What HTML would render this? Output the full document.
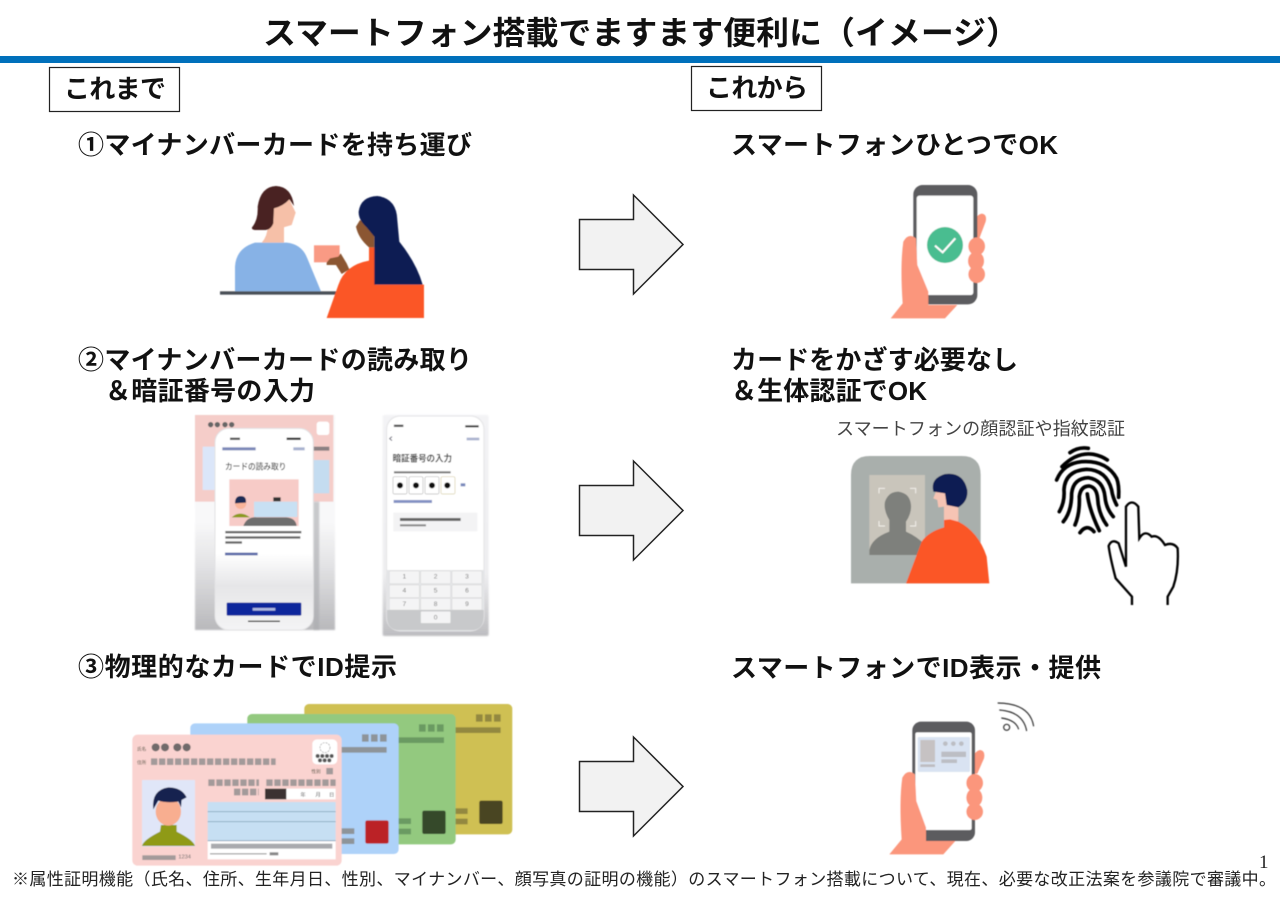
<!DOCTYPE html>
<html lang="ja"><head><meta charset="utf-8"><title>スマートフォン搭載でますます便利に</title>
<style>html,body{margin:0;padding:0;background:#fff;width:1280px;height:902px;overflow:hidden}svg{display:block}
text{font-family:"Liberation Sans","Noto Sans CJK JP",sans-serif}
.h{font-size:26px;font-weight:700;fill:#111}</style></head><body>
<svg width="1280" height="902" viewBox="0 0 1280 902" xmlns="http://www.w3.org/2000/svg">
<defs>
<filter id="soft" x="-5%" y="-5%" width="110%" height="110%"><feGaussianBlur stdDeviation="1.2"/></filter>
<filter id="b" x="-5%" y="-5%" width="110%" height="110%"><feGaussianBlur stdDeviation="2"/></filter>
<filter id="b2" x="-5%" y="-5%" width="110%" height="110%"><feGaussianBlur stdDeviation="0.9"/></filter>
<linearGradient id="g1" x1="0" y1="0" x2="0" y2="1"><stop offset="0" stop-color="#f6f6f7"/><stop offset=".5" stop-color="#f8f8f9"/><stop offset=".72" stop-color="#e0e0e2"/><stop offset="1" stop-color="#b8b8bb"/></linearGradient>
<linearGradient id="g2" x1="0" y1="0" x2="0" y2="1"><stop offset="0" stop-color="#fff"/><stop offset=".62" stop-color="#fff"/><stop offset=".78" stop-color="#e6e6e8"/><stop offset="1" stop-color="#f4f4f5"/></linearGradient>
<linearGradient id="g3" x1="0" y1="0" x2="0" y2="1"><stop offset="0" stop-color="#f3f3f5"/><stop offset=".72" stop-color="#eeeef0"/><stop offset="1" stop-color="#bdbdc0"/></linearGradient>
</defs>
<rect width="1280" height="902" fill="#fff"/>
<text x="263" y="44" font-size="32" font-weight="700" fill="#111" textLength="756" lengthAdjust="spacingAndGlyphs">スマートフォン搭載でますます便利に（イメージ）</text>
<rect x="0" y="56" width="1280" height="7" fill="#0070bb"/>
<rect x="49.500" y="67.500" width="130" height="44" fill="#fff" stroke="#222" stroke-width="1.2"/>
<text x="64" y="98" class="h" textLength="102">これまで</text>
<rect x="691.500" y="66.500" width="130" height="44" fill="#fff" stroke="#222" stroke-width="1.2"/>
<text x="706" y="97" class="h" textLength="102">これから</text>

<text x="78" y="154" class="h" textLength="394">①マイナンバーカードを持ち運び</text>
<text x="78" y="369" class="h" textLength="394">②マイナンバーカードの読み取り</text>
<text x="105" y="400" class="h" textLength="210">＆暗証番号の入力</text>
<text x="78" y="676" class="h" textLength="319">③物理的なカードでID提示</text>
<text x="731" y="154" class="h" textLength="327">スマートフォンひとつでOK</text>
<text x="731" y="369" class="h" textLength="287">カードをかざす必要なし</text>
<text x="731" y="400" class="h" textLength="196">＆生体認証でOK</text>
<text x="731" y="677" class="h" textLength="370">スマートフォンでID表示・提供</text>

<g fill="#f2f2f2" stroke="#222" stroke-width="1.5" stroke-linejoin="miter">
<path d="M579.500 219.500H633.500V195L683 244.500L633.500 294V269.500H579.500Z"/>
<path d="M579.500 485.500H633.500V461L683 510.500L633.500 560V535.500H579.500Z"/>
<path d="M579.500 761.500H633.500V737L683 786.500L633.500 836V811.500H579.500Z"/>
</g>

<!-- counter illustration -->
<g transform="translate(190 170) scale(.3333)" filter="url(#soft)">
<path d="M135 364V290Q138 235 195 218H290Q335 222 352 265L393 364Z" fill="#87b2e6"/>
<path d="M215 218Q232 200 233 170H282V218Z" fill="#f6c0a8"/>
<path d="M250 115L298 88L317 128L305 165L270 175H235V125Z" fill="#f6c0a8"/>
<path d="M186 172Q205 150 203 110Q212 50 258 48Q305 50 312 108L298 88Q280 108 252 115L250 160Q242 180 225 180H198Q184 180 186 172Z" fill="#4a2320"/>
<rect x="90" y="364" width="350" height="10" fill="#484f57"/>
<path d="M410 444L445 345Q465 285 537 272V232H556V344H702V444Z" fill="#fb5726"/>
<path d="M498 170L510 150L553 175V232H537Q505 205 498 170Z" fill="#8b5732"/>
<path d="M553 344V200L530 172Q505 150 506 125Q512 80 562 78Q620 85 622 150L628 215Q680 280 698 344Z" fill="#0e1f52"/>
<rect x="372" y="226" width="77" height="51" fill="#f99a84"/>
<path d="M420 265L445 260L452 250L470 280L478 298L455 312L438 285H410V278Z" fill="#8b5732"/>
</g>

<!-- phone 1 -->
<g transform="translate(880 175) scale(.3333)" filter="url(#soft)">
<path d="M280 140Q292 118 305 116Q322 118 317 140L298 190H280Z" fill="#fb967c"/>
<rect x="100" y="30" width="192" height="358" rx="28" fill="#5c5c5e"/>
<rect x="110" y="62" width="170" height="298" rx="8" fill="#fff"/>
<circle cx="195" cy="210" r="54" fill="#49bd90"/>
<path d="M165 212L188 232L226 190" fill="none" stroke="#fff" stroke-width="6"/>
<path d="M32 430L68 385Q60 270 70 200Q85 172 108 190L112 270L145 350V390H232L195 430Z" fill="#fb967c"/>
<g fill="#fb967c"><ellipse cx="290" cy="214" rx="25" ry="27"/><ellipse cx="288" cy="258" rx="24" ry="28"/><ellipse cx="290" cy="298" rx="25" ry="26"/></g>
</g>

<!-- phone reading screens -->
<g transform="translate(190 410) scale(.3333)" filter="url(#soft)">
<rect x="15" y="15" width="420" height="645" fill="url(#g1)" filter="url(#b)"/>
<rect x="15" y="15" width="415" height="260" fill="#f5cdc9"/>
<g fill="#666" filter="url(#b2)"><circle cx="62" cy="44" r="8"/><circle cx="82" cy="44" r="8"/><circle cx="105" cy="44" r="8"/><circle cx="125" cy="44" r="8"/></g>
<rect x="38" y="110" width="40" height="130" fill="#dbe6f9"/>
<rect x="370" y="150" width="48" height="100" fill="#c4dcf0"/>
<rect x="380" y="35" width="38" height="40" rx="8" fill="#fff"/>
<rect x="370" y="110" width="48" height="12" fill="#8a8082"/>
<rect x="370" y="275" width="18" height="385" fill="#a9aaae" opacity=".6" filter="url(#b)"/>
<rect x="75" y="55" width="295" height="605" rx="42" fill="url(#g2)" stroke="#e2e2e4" stroke-width="3"/>
<text x="105" y="179" font-size="26" font-weight="500" fill="#444" textLength="184" lengthAdjust="spacingAndGlyphs">カードの読み取り</text>
<rect x="118" y="208" width="208" height="140" fill="#f7cbc7"/>
<rect x="192" y="275" width="130" height="46" fill="#c8e0f3"/>
<rect x="250" y="262" width="22" height="12" fill="#333"/>
<circle cx="152" cy="280" r="17" fill="#f8b49a"/><path d="M135 280Q135 258 152 258Q170 258 168 278Z" fill="#1b2a55"/>
<path d="M125 322Q150 300 180 322Z" fill="#8b9a1c"/>
<path d="M160 348Q170 320 200 322H290Q318 325 320 348Z" fill="#6e6e6e"/>
<g fill="#666" filter="url(#b2)"><rect x="106" y="363" width="228" height="7"/><rect x="106" y="379" width="225" height="7"/><rect x="106" y="394" width="50" height="7"/></g>
<rect x="105" y="428" width="98" height="8" fill="#5c6aa8" filter="url(#b2)"/>
<rect x="97" y="112" width="100" height="9" fill="#7b88b8" filter="url(#b2)"/>
<rect x="310" y="112" width="34" height="9" fill="#a8b2cf" filter="url(#b2)"/>
<rect x="120" y="83" width="30" height="7" fill="#555" filter="url(#b2)"/>
<rect x="290" y="83" width="42" height="7" fill="#333" filter="url(#b2)"/>
<rect x="110" y="578" width="224" height="39" rx="3" fill="#0a269c"/>
<rect x="188" y="594" width="68" height="8" fill="#aeb8e0" filter="url(#b2)"/>
<rect x="174" y="632" width="96" height="4" fill="#333"/>
<!-- second -->
<rect x="578" y="15" width="318" height="663" rx="6" fill="url(#g3)" filter="url(#b)"/>
<rect x="590" y="18" width="292" height="645" rx="40" fill="#fff" stroke="#e4e4e6" stroke-width="3"/>
<path d="M591 480H881V620Q881 661 842 661H630Q591 661 591 620Z" fill="#e4e5e7"/>
<path d="M591 600H881V620Q881 661 842 661H630Q591 661 591 620Z" fill="#c8c9cb"/>
<rect x="612" y="44" width="28" height="7" fill="#555" filter="url(#b2)"/>
<rect x="826" y="46" width="40" height="6" fill="#333" filter="url(#b2)"/>
<rect x="830" y="83" width="38" height="8" fill="#aab3cf" filter="url(#b2)"/>
<path d="M606 80L599 86L606 92" fill="none" stroke="#667" stroke-width="3"/>
<text x="608" y="155" font-size="28" font-weight="700" fill="#444" textLength="178" lengthAdjust="spacingAndGlyphs">暗証番号の入力</text>
<rect x="612" y="184" width="170" height="6" fill="#777" filter="url(#b2)"/>
<g fill="#fff" stroke="#bbb" stroke-width="2"><rect x="609" y="200" width="42" height="52" rx="5"/><rect x="657" y="200" width="42" height="52" rx="5"/><rect x="705" y="200" width="42" height="52" rx="5"/><rect x="753" y="200" width="42" height="52" rx="5" stroke="#d8cfa8"/></g>
<g fill="#111"><circle cx="630" cy="226" r="9"/><circle cx="678" cy="226" r="9"/><circle cx="726" cy="226" r="9"/><circle cx="772" cy="226" r="9"/></g>
<rect x="812" y="220" width="14" height="9" fill="#7888bb" filter="url(#b2)"/>
<rect x="611" y="270" width="115" height="9" fill="#8492c4" filter="url(#b2)"/>
<rect x="610" y="308" width="252" height="56" fill="#f3f3f4"/>
<rect x="630" y="324" width="182" height="9" fill="#666" filter="url(#b2)"/>
<rect x="630" y="343" width="78" height="6" fill="#888" filter="url(#b2)"/>
<g fill="#f4f4f5" stroke="#ccc"><rect x="598" y="483" width="90" height="38" rx="3"/><rect x="692" y="483" width="90" height="38" rx="3"/><rect x="786" y="483" width="90" height="38" rx="3"/><rect x="598" y="525" width="90" height="38" rx="3"/><rect x="692" y="525" width="90" height="38" rx="3"/><rect x="786" y="525" width="90" height="38" rx="3"/><rect x="598" y="565" width="90" height="35" rx="3"/><rect x="692" y="565" width="90" height="35" rx="3"/><rect x="786" y="565" width="90" height="35" rx="3"/><rect x="692" y="604" width="90" height="36" rx="3"/></g>
<g font-size="20" fill="#777" text-anchor="middle"><text x="643" y="506">1</text><text x="737" y="506">2</text><text x="831" y="506">3</text><text x="643" y="548">4</text><text x="737" y="548">5</text><text x="831" y="548">6</text><text x="643" y="588">7</text><text x="737" y="588">8</text><text x="831" y="588">9</text><text x="737" y="628">0</text></g>
</g>

<!-- face auth caption -->
<text x="836" y="435" font-size="18" fill="#444" textLength="289">スマートフォンの顔認証や指紋認証</text>

<!-- face + fingerprint -->
<g transform="translate(830 410) scale(.3333)" filter="url(#soft)">
<path d="M63 520V195Q63 138 120 138H395Q452 138 452 195V520Z" fill="#a9afac"/>
<rect x="118" y="195" width="167" height="240" fill="#c9c5bb"/>
<path d="M118 435V420Q125 385 178 365L178 330Q160 300 165 275Q175 245 205 245Q240 250 243 285Q245 310 228 335V365Q262 380 285 405V435Z" fill="#7e807b"/>
<g fill="none" stroke="#f2f0ea" stroke-width="3"><path d="M147 250V235H165M240 235H257V250M147 333V348H165M240 348H257V333"/></g>
<path d="M228 520L275 395Q295 365 342 352V320H385V335Q445 365 470 440L478 520Z" fill="#fb5726"/>
<path d="M342 330V290L325 292L322 270L310 265L318 245H345L385 290V335L360 328Z" fill="#f6c4b4"/>
<path d="M385 292L350 285L345 250L310 245Q300 205 345 192Q400 185 412 240Q415 275 385 292Z" fill="#0e1f52"/>
<g fill="none" stroke="#000" stroke-width="11" stroke-linecap="round">
<path d="M720 128Q745 110 775 115"/>
<path d="M696 170Q740 125 790 133Q815 138 832 150"/>
<path d="M680 210Q700 160 755 155Q830 150 860 205Q868 225 866 262"/>
<path d="M688 305Q705 275 702 240Q705 182 770 178Q830 180 845 240Q848 262 860 285"/>
<path d="M700 335Q725 305 725 250Q730 205 775 203Q820 210 825 260Q828 295 850 320"/>
<path d="M735 345Q750 310 748 260Q752 228 778 228Q800 232 803 265Q805 310 830 345"/>
<path d="M772 252Q778 300 808 362"/>
<path d="M750 368Q770 340 792 365"/>
</g>
<path d="M906 585V560L857 505Q840 440 836 408Q845 385 866 400L888 470V290Q905 265 925 290L928 385Q945 358 965 380Q985 372 1005 405Q1030 395 1043 415Q1047 480 1030 530L1013 560V585" fill="none" stroke="#000" stroke-width="7"/>
</g>

<!-- cards -->
<g transform="translate(125 700) scale(.3333)" filter="url(#soft)">
<rect x="538" y="12" width="624" height="391" rx="14" fill="#cfc052"/>
<g fill="#93883f"><rect x="1053" y="43" width="20" height="22"/><rect x="1080" y="43" width="20" height="22"/><rect x="1107" y="43" width="20" height="22"/><rect x="960" y="82" width="167" height="17"/><rect x="960" y="325" width="68" height="17"/><rect x="960" y="356" width="68" height="17"/></g>
<rect x="1063" y="302" width="70" height="70" rx="6" fill="#4a4420"/>
<rect x="367" y="42" width="625" height="391" rx="14" fill="#93c97f"/>
<g fill="#6a9a62"><rect x="882" y="73" width="20" height="22"/><rect x="909" y="73" width="20" height="22"/><rect x="936" y="73" width="20" height="22"/><rect x="790" y="112" width="167" height="17"/><rect x="790" y="355" width="68" height="17"/><rect x="790" y="386" width="68" height="17"/></g>
<rect x="892" y="332" width="70" height="70" rx="6" fill="#35492c"/>
<rect x="196" y="70" width="625" height="392" rx="14" fill="#aed2f9"/>
<g fill="#8e9499"><rect x="711" y="103" width="20" height="22"/><rect x="738" y="103" width="20" height="22"/><rect x="765" y="103" width="20" height="22"/><rect x="620" y="141" width="165" height="17"/><rect x="620" y="385" width="68" height="17"/><rect x="620" y="415" width="68" height="17"/></g>
<rect x="721" y="361" width="70" height="70" rx="6" fill="#bb2028"/>
<rect x="22" y="104" width="628" height="393" rx="16" fill="#fad3d0"/>
<g fill="#6f6a6a"><circle cx="92" cy="142" r="12"/><circle cx="120" cy="142" r="12"/><circle cx="157" cy="142" r="12"/><circle cx="185" cy="142" r="12"/></g>
<g font-size="14" fill="#554"><text x="36" y="152">氏名</text><text x="36" y="192">住所</text><text x="559" y="219">性別</text></g>
<g fill="none" stroke="#a39a9a" stroke-width="20" stroke-dasharray="19 5">
<path d="M78 185H452"/>
<path d="M250 248H402"/>
<path d="M424 248H632"/>
<path d="M327 276H401"/>
</g>
<rect x="604" y="204" width="20" height="19" fill="#a39a9a"/>
<rect x="52" y="466" width="100" height="14" fill="#a39a9a"/>
<rect x="562" y="118" width="75" height="75" rx="14" fill="#fff"/>
<g fill="#555"><circle cx="578" cy="168" r="6"/><circle cx="592" cy="168" r="6"/><circle cx="606" cy="168" r="6"/><circle cx="620" cy="168" r="6"/><circle cx="585" cy="181" r="6"/><circle cx="599" cy="181" r="6"/><circle cx="613" cy="181" r="6"/></g>
<circle cx="600" cy="143" r="15" fill="none" stroke="#999" stroke-width="2" stroke-dasharray="6 3"/>
<rect x="51" y="240" width="159" height="200" fill="#e0e6f8"/>
<path d="M51 438Q55 420 105 395L108 375H155V395Q205 420 210 438Z" fill="#8f9a12"/>
<ellipse cx="130" cy="335" rx="38" ry="42" fill="#f8ae90"/>
<path d="M85 328Q78 270 130 262Q170 262 185 292L170 300L168 322L160 305Q125 310 100 302Z" fill="#16224f"/>
<rect x="420" y="266" width="212" height="32" fill="#fff"/>
<rect x="420" y="266" width="64" height="32" fill="#3a3330"/>
<g font-size="16" fill="#444"><text x="526" y="290">年</text><text x="571" y="290">月</text><text x="612" y="290">日</text></g>
<rect x="248" y="306" width="384" height="118" fill="#c6dff3"/>
<g stroke="#6b8fa5" stroke-width="2"><path d="M248 335H632M248 365H632M248 422H632"/></g>
<rect x="248" y="424" width="384" height="54" fill="#fff"/>
<rect x="258" y="431" width="364" height="15" fill="#a9aaae"/>
<rect x="255" y="460" width="170" height="3" fill="#888"/>
<rect x="434" y="457" width="26" height="9" fill="#888"/>
<text x="160" y="476" font-size="17" fill="#666">1234</text>
</g>

<!-- phone 3 -->
<g transform="translate(880 695) scale(.3333)" filter="url(#soft)">
<path d="M275 190Q287 167 300 165Q317 167 312 190L292 236H275Z" fill="#fb967c"/>
<rect x="97" y="80" width="188" height="358" rx="26" fill="#5c5c5e"/>
<rect x="106" y="112" width="169" height="293" rx="6" fill="#fff"/>
<rect x="113" y="126" width="157" height="105" rx="4" fill="#d9e3f2"/>
<rect x="121" y="135" width="44" height="66" fill="#c6c2c3"/>
<rect x="121" y="208" width="44" height="8" fill="#bdbcc0"/>
<g fill="#bcbec4"><circle cx="196" cy="146" r="7"/><circle cx="220" cy="146" r="7"/><circle cx="244" cy="146" r="7"/><rect x="184" y="170" width="74" height="16"/><rect x="184" y="193" width="47" height="11"/></g>
<path d="M28 478L65 433Q57 318 67 248Q82 220 105 238L109 318L138 398V438H226L190 478Z" fill="#fb967c"/>
<g fill="#fb967c"><ellipse cx="284" cy="264" rx="25" ry="27"/><ellipse cx="283" cy="308" rx="24" ry="28"/><ellipse cx="284" cy="350" rx="25" ry="25"/></g>
<g fill="none" stroke="#333" stroke-width="3.500"><circle cx="380" cy="97" r="9"/><path d="M364 69Q408 75 416 103"/><path d="M358 45Q430 50 440 108"/><path d="M353 24Q450 25 461 94"/></g>
</g>

<text x="1259" y="868" font-size="19" fill="#222" style="font-family:'Liberation Serif',serif">1</text>
<text x="12" y="885" font-size="17" fill="#222" textLength="1264">※属性証明機能（氏名、住所、生年月日、性別、マイナンバー、顔写真の証明の機能）のスマートフォン搭載について、現在、必要な改正法案を参議院で審議中。</text>
</svg>
</body></html>
